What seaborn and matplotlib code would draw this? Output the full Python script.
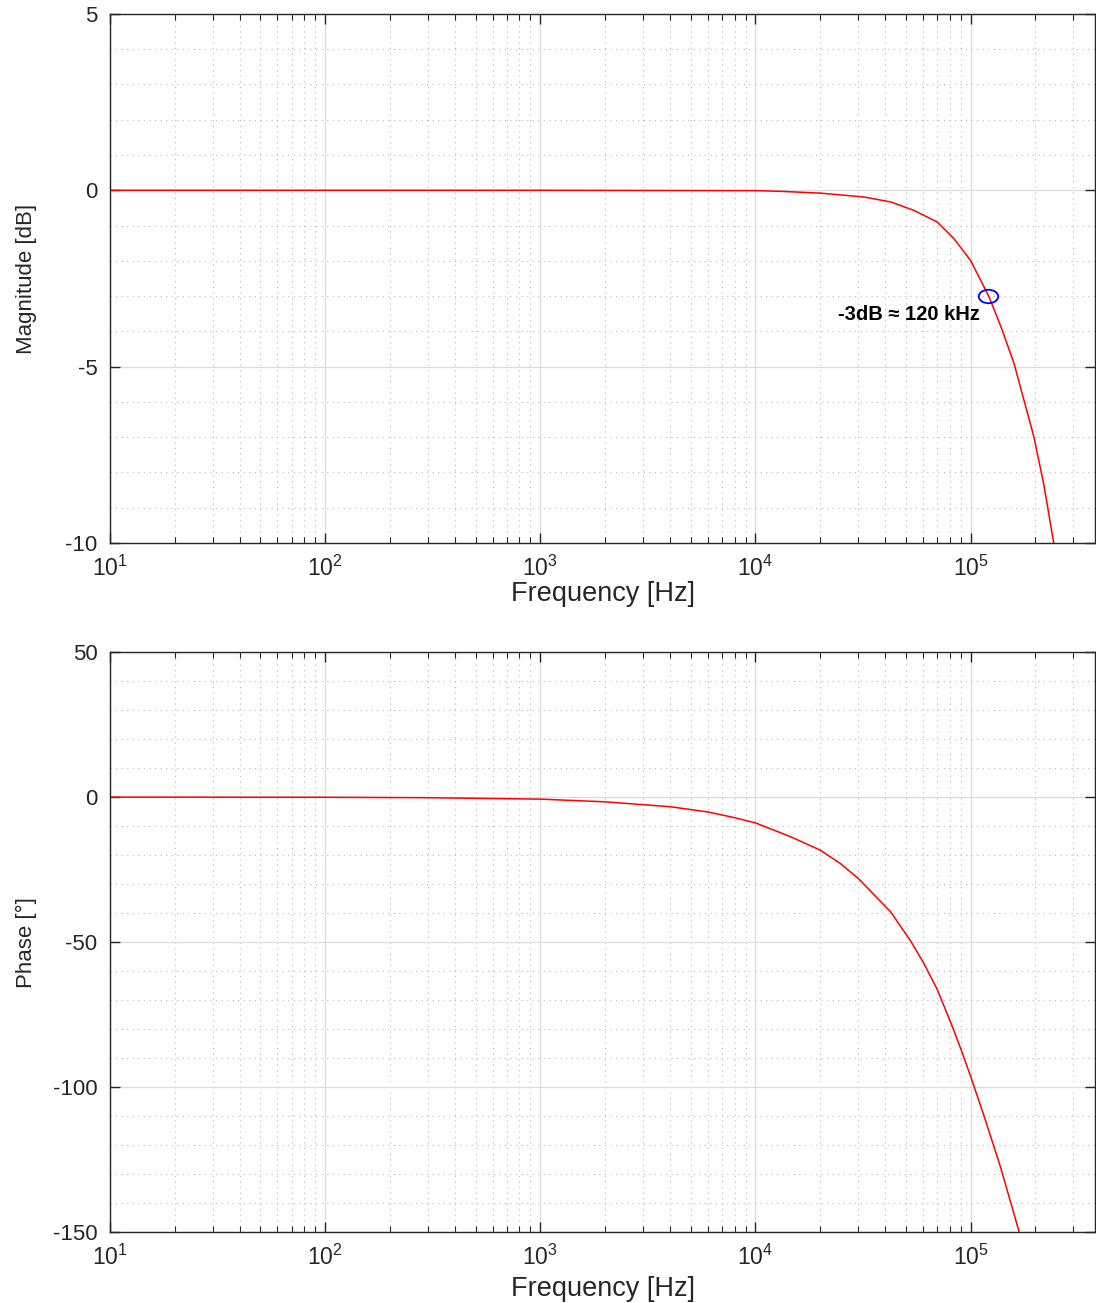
import numpy as np
import pandas as pd
import seaborn as sns
import matplotlib
matplotlib.use("Agg")
from matplotlib import pyplot as plt
from matplotlib.ticker import LogLocator, MultipleLocator, NullFormatter
from matplotlib.path import Path
from matplotlib.transforms import Affine2D

# values
freq_mag = [10, 100, 1000, 1e4, 1.31e4, 2e4, 3.19e4, 4.25e4, 5.45e4, 7e4, 8.36e4, 1e5,
            1.22e5, 1.38e5, 1.59e5, 1.77e5, 1.97e5, 2.19e5, 2.44e5]
mag_db = [0.0, 0.0, 0.0, -0.01, -0.03, -0.08, -0.19, -0.33, -0.57, -0.9, -1.37, -1.99,
          -3.03, -3.85, -4.9, -5.95, -7.0, -8.35, -10.04]

freq_ph = [10, 100, 300, 1000, 1970, 4000, 5980, 7900, 1e4, 1.46e4, 2e4, 2.48e4, 3e4,
           4.25e4, 5.26e4, 6.07e4, 7e4, 8.07e4, 8.98e4, 1e5, 1.15e5, 1.38e5, 1.68e5]
phase_deg = [0.0, -0.05, -0.2, -0.7, -1.6, -3.3, -5.1, -7.0, -8.9, -13.7, -18.3, -22.9,
             -28.0, -39.6, -49.6, -57.4, -66.4, -77.6, -86.6, -96.3, -109.6,
             -127.8, -149.9]

cutoff_f = [1.2e5]
cutoff_db = [-3.0]

sns.set_style("ticks")
plt.rcParams['font.family'] = ['Liberation Sans', 'DejaVu Sans']
plt.rcParams['mathtext.fontset'] = 'custom'
plt.rcParams['mathtext.rm'] = 'Liberation Sans'
plt.rcParams['axes.unicode_minus'] = False

fig = plt.figure(figsize=(10.96, 13.03), dpi=100)
ax1 = fig.add_axes([0.1004, 0.5833, 0.899, 0.406])
ax2 = fig.add_axes([0.1004, 0.0545, 0.899, 0.445])

df_mag = pd.DataFrame({"f": freq_mag, "mag": mag_db})
df_ph = pd.DataFrame({"f": freq_ph, "phase": phase_deg})

sns.lineplot(data=df_mag, x="f", y="mag", ax=ax1, color="red", lw=1.1)
sns.lineplot(data=df_ph, x="f", y="phase", ax=ax2, color="red", lw=1.1)

# the -3 dB point, drawn as a slightly wide open ellipse like the original
ellipse = Path.unit_circle().transformed(Affine2D().scale(1.45, 1.0))
ax1.plot(cutoff_f, cutoff_db, linestyle="none", marker=ellipse, markersize=14,
         mfc="none", mec="blue", mew=1.3)
ax1.text(1.11e5, -3.52, "-3dB ≈ 120 kHz", ha="right", va="center",
         fontsize=14.5, fontweight="bold", color="black")

for ax, ylim, major, minor, lab, xl_y in [
        (ax1, (-10, 5), 5, 1, "Magnitude [dB]", -0.072),
        (ax2, (-150, 50), 50, 10, "Phase [°]", -0.076)]:
    ax.set_xscale("log")
    ax.set_xlim(10, 3.8e5)
    ax.set_ylim(*ylim)
    ax.xaxis.set_major_locator(LogLocator(base=10, numticks=10))
    ax.xaxis.set_minor_locator(LogLocator(base=10, subs=np.arange(2, 10), numticks=20))
    ax.xaxis.set_minor_formatter(NullFormatter())
    ax.yaxis.set_major_locator(MultipleLocator(major))
    ax.yaxis.set_minor_locator(MultipleLocator(minor))
    ax.grid(which="major", color="#dcdcdc", lw=0.9, ls="-")
    ax.grid(which="minor", color="#b8b8b8", lw=0.8, ls=(0, (1, 4)))
    ax.tick_params(which="both", direction="in", top=True, right=True,
                   labelsize=16, colors="#262626")
    ax.tick_params(axis="x", which="major", pad=9, labelsize=16.5)
    ax.tick_params(axis="y", which="major", pad=9)
    ax.tick_params(axis="y", which="minor", left=False, right=False)
    ax.tick_params(which="major", length=7, width=1)
    ax.tick_params(which="minor", length=4, width=0.8)
    for s in ax.spines.values():
        s.set_color("#262626")
        s.set_linewidth(1.0)
    ax.set_xlabel("Frequency [Hz]", fontsize=19.5, color="#262626")
    ax.xaxis.set_label_coords(0.5, xl_y)
    ax.set_ylabel(lab, color="#262626", fontsize=16)
    ax.yaxis.set_label_coords(-0.074, 0.5)
    ax.set_axisbelow(True)

fig.savefig("out.png", dpi=100)
